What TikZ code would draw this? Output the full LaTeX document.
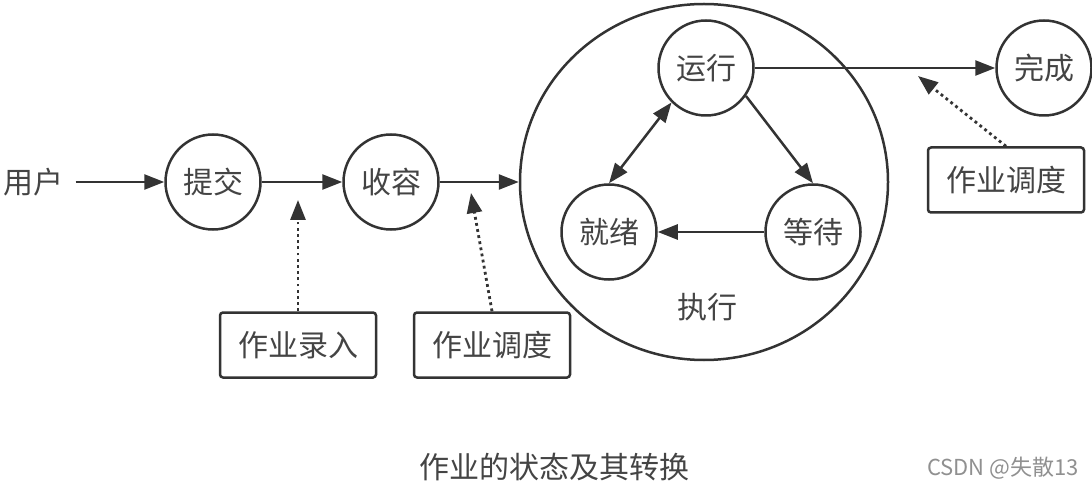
\documentclass[tikz,border=0pt]{standalone}
\usepackage{fontspec}
\setmainfont{Noto Sans CJK SC}
\usetikzlibrary{arrows.meta,shapes.geometric}
\definecolor{linie}{HTML}{333333}
\definecolor{scris}{HTML}{444444}
\definecolor{semn}{HTML}{909090}

\begin{document}
\begin{tikzpicture}[x=1pt,y=-1pt,>={Triangle[length=20pt,width=15pt]},
  text30/.style={font=\fontsize{30}{30}\selectfont,text=scris},
  stare/.style={circle,draw=linie,line width=2.5pt,minimum size=95pt,inner sep=0pt,text30},
  caseta/.style={draw=linie,line width=2.5pt,rounded corners=3pt,minimum width=156pt,minimum height=65pt,inner sep=0pt,text30},
  sageata/.style={->,draw=linie,line width=2.5pt},
  punctat/.style={->,draw=linie,line width=2.8pt,dash pattern=on 2.8pt off 3.4pt}]
  \useasboundingbox (0,0) rectangle (1092,486);

  % noduri pe linia de intrare
  \node[text30] (user) at (34,182) {用户};
  \node[stare] (submit) at (213,182) {提交};
  \node[stare] (hold) at (391,182) {收容};

  % cercul mare de executie
  \node[ellipse,draw=linie,line width=2.5pt,minimum width=368pt,minimum height=356pt,inner sep=0pt] (exec) at (704,182) {};
  \node[stare] (run) at (706,68) {运行};
  \node[stare] (ready) at (609,232) {就绪};
  \node[stare] (wait) at (813,232) {等待};
  \node[text30] (execlabel) at (707,307) {执行};

  % starea finala
  \node[stare] (done) at (1044,68) {完成};

  % casete
  \node[caseta] (entry) at (298,345) {作业录入};
  \node[caseta] (sched1) at (492,345) {作业调度};
  \node[caseta] (sched2) at (1006,180) {作业调度};

  % sageti
  \draw[sageata,shorten <=8pt] (user) -- (submit);
  \draw[sageata] (submit) -- (hold);
  \draw[sageata] (hold) -- (exec.west);
  \draw[sageata] (run) -- (done);
  \draw[sageata] (run.-35) -- (wait.north);
  \draw[sageata,<->] (ready.north) -- (run.225);
  \draw[sageata] (wait) -- (ready);

  % sageti punctate
  \coordinate (p1) at (298,200);
  \coordinate (p2) at (471,193);
  \coordinate (p3) at (918,76);
  \draw[punctat] (entry.north) -- (p1);
  \draw[punctat] (sched1.north) -- (p2);
  \draw[punctat] (sched2.north) -- (p3);

  % titlu
  \node[text30] (title) at (554,467) {作业的状态及其转换};
  \node[font=\fontsize{22}{22}\selectfont,text=semn] (mark) at (1003,468) {CSDN @失散13};
\end{tikzpicture}
\end{document}
